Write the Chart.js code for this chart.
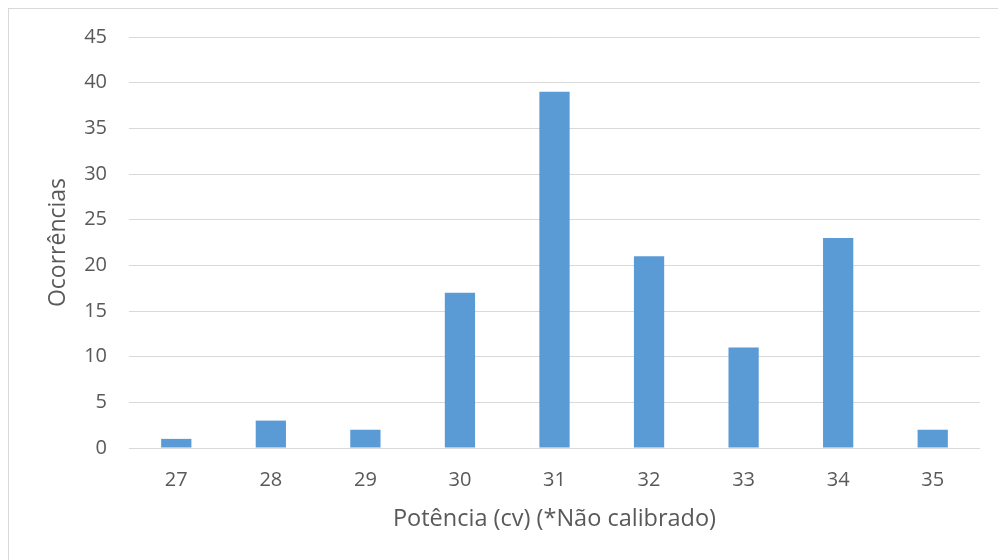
<!DOCTYPE html>
<html>
<head>
<meta charset="utf-8">
<script src="https://cdn.jsdelivr.net/npm/chart.js@4"></script>
<style>
    html, body { margin: 0; padding: 0; background: #fff; }
    #wrap { width: 998px; height: 560px; }
</style>
</head>
<body>
<div id="wrap"><canvas id="chart" width="998" height="560"></canvas></div>
<script>
const potencia = ["27", "28", "29", "30", "31", "32", "33", "34", "35"];
const ocorrencias = [1, 3, 2, 17, 39, 21, 11, 23, 2];
const yMax = 45;
const yStep = 5;

const textColor = "#595959";
const gridColor = "#d9d9d9";
const fontFamily = "'Open Sans', 'Noto Sans', sans-serif";

// light frame round the whole chart, like the spreadsheet chart area
const framePlugin = {
    id: "frame",
    beforeDraw(chart) {
        const ctx = chart.ctx;
        ctx.save();
        ctx.strokeStyle = gridColor;
        ctx.lineWidth = 1;
        ctx.strokeRect(8.5, 8.5, chart.width, chart.height);
        ctx.restore();
    }
};

const chartOptions = {
    type: "bar",
    data: {
        labels: potencia,
        datasets: [
            {
                label: "Ocorrências",
                data: ocorrencias,
                backgroundColor: "#5b9bd5",
                borderWidth: 0,
                categoryPercentage: 1,
                barPercentage: 0.32,
            },
        ],
    },
    options: {
        responsive: false,
        animation: false,
        layout: {
            padding: { left: 42, right: 18, top: 37, bottom: 0 },
        },
        plugins: {
            legend: { display: false },
            tooltip: { enabled: false },
        },
        scales: {
            x: {
                grid: { display: false },
                border: { display: false },
                ticks: {
                    color: textColor,
                    font: { family: fontFamily, size: 20 },
                    padding: 12,
                    maxRotation: 0,
                },
                title: {
                    display: true,
                    text: "Potência (cv) (*Não calibrado)",
                    color: textColor,
                    font: { family: fontFamily, size: 23.5 },
                    padding: 27,
                },
                afterFit(scale) {
                    scale.height = 112;
                },
            },
            y: {
                min: 0,
                max: yMax,
                grid: {
                    color: gridColor,
                    lineWidth: 1,
                    drawTicks: false,
                },
                border: { display: false },
                ticks: {
                    stepSize: yStep,
                    color: textColor,
                    font: { family: fontFamily, size: 20 },
                    padding: 22,
                },
                title: {
                    display: true,
                    text: "Ocorrências",
                    color: textColor,
                    font: { family: fontFamily, size: 23 },
                    padding: 3,
                },
                afterFit(scale) {
                    scale.width = 87;
                },
            },
        },
    },
    plugins: [framePlugin],
};

new Chart("chart", chartOptions);
</script>
</body>
</html>
